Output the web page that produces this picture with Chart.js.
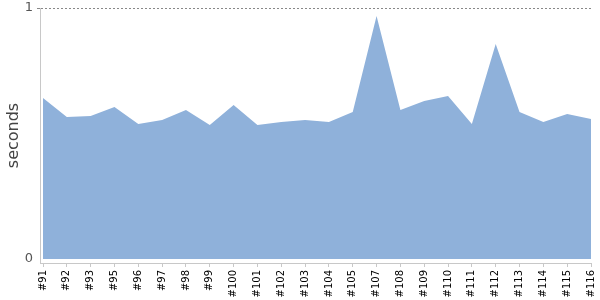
<!DOCTYPE html>
<html>
<head>
<meta charset="utf-8">
<script src="https://cdn.jsdelivr.net/npm/chart.js@4"></script>
<style>
  html, body { margin: 0; padding: 0; background: #fff; }
  #wrap { width: 600px; height: 300px; }
</style>
</head>
<body>
<div id="wrap"><canvas id="chart"></canvas></div>
<script>
const builds = ["#91", "#92", "#93", "#95", "#96", "#97", "#98", "#99", "#100", "#101", "#102", "#103",
  "#104", "#105", "#107", "#108", "#109", "#110", "#111", "#112", "#113", "#114", "#115", "#116"];
const seconds = [0.641, 0.566, 0.570, 0.606, 0.538, 0.554, 0.594, 0.534, 0.614, 0.534, 0.546, 0.554,
  0.546, 0.586, 0.968, 0.594, 0.629, 0.649, 0.538, 0.857, 0.586, 0.546, 0.578, 0.558];
const yTicks = [0, 1];

const font = "'DejaVu Sans', sans-serif";

new Chart(document.getElementById("chart"), {
  type: "line",
  data: {
    datasets: [
      {
        data: seconds.map((v, i) => ({ x: i, y: v })),
        backgroundColor: "#8fb1da",
        borderWidth: 0,
        pointRadius: 0,
        fill: "origin",
        tension: 0,
      },
    ],
  },
  options: {
    responsive: true,
    maintainAspectRatio: false,
    animation: false,
    layout: { padding: { top: 8, right: 9, left: 0, bottom: 0 } },
    plugins: {
      legend: { display: false },
      tooltip: { enabled: false },
    },
    scales: {
      x: {
        type: "linear",
        min: -0.126,
        max: builds.length - 1,
        afterBuildTicks: (scale) => {
          scale.ticks = builds.map((b, i) => ({ value: i }));
        },
        afterFit: (scale) => {
          scale.height = 37;
          scale.paddingLeft = 0;
          scale.paddingRight = 0;
        },
        ticks: {
          autoSkip: false,
          minRotation: 90,
          maxRotation: 90,
          color: "#000",
          padding: 3,
          font: { family: font, size: 10 },
          callback: (value) => builds[value],
        },
        grid: {
          drawOnChartArea: false,
          drawTicks: true,
          tickLength: 4,
          color: "#c8c8c8",
        },
        border: { color: "#c8c8c8", width: 1 },
      },
      y: {
        min: -0.0159,
        max: 1,
        afterBuildTicks: (scale) => {
          scale.ticks = yTicks.map((v) => ({ value: v }));
        },
        afterFit: (scale) => {
          scale.width = 40;
          scale.paddingTop = 0;
          scale.paddingBottom = 0;
        },
        ticks: {
          color: "#555",
          padding: 4,
          font: { family: font, size: 13 },
        },
        grid: {
          drawTicks: true,
          tickLength: 3,
          color: (ctx) => (ctx.tick && ctx.tick.value === 1 ? "#888" : "rgba(0,0,0,0)"),
        },
        border: { color: "#c8c8c8", width: 1, dash: [2, 2] },
        title: {
          display: true,
          text: "seconds",
          color: "#444",
          padding: { top: 4, bottom: 0 },
          font: { family: font, size: 16 },
        },
      },
    },
  },
});
</script>
</body>
</html>
